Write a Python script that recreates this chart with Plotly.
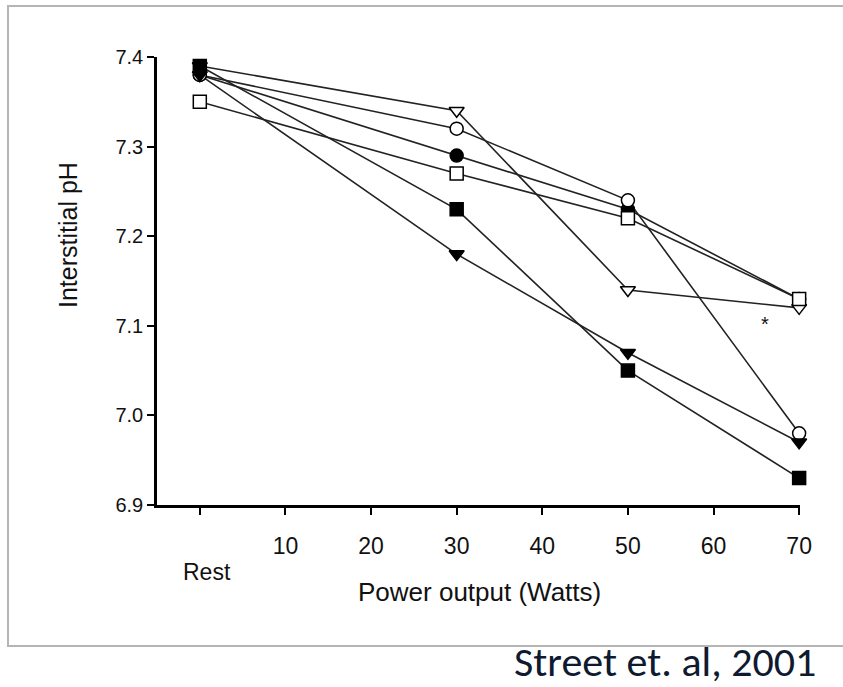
import plotly.graph_objects as go

# Data
power_x = [0, 30, 50, 70]
x_tick_vals = [0, 10, 20, 30, 40, 50, 60, 70]
x_tick_text = ["", "10", "20", "30", "40", "50", "60", "70"]
y_tick_vals = [6.9, 7.0, 7.1, 7.2, 7.3, 7.4]
y_tick_text = ["6.9", "7.0", "7.1", "7.2", "7.3", "7.4"]

open_triangle = [7.39, 7.34, 7.14, 7.12]
open_circle = [7.38, 7.32, 7.24, 6.98]
open_square = [7.35, 7.27, 7.22, 7.13]
filled_circle = [7.38, 7.29, 7.23, 7.13]
filled_square = [7.39, 7.23, 7.05, 6.93]
filled_triangle = [7.38, 7.18, 7.07, 6.97]

# drawing order (later on top)
series = [
    ("filled_circle", filled_circle, "circle", "black"),
    ("open_triangle", open_triangle, "triangle-down", "white"),
    ("open_circle", open_circle, "circle", "white"),
    ("open_square", open_square, "square", "white"),
    ("filled_triangle", filled_triangle, "triangle-down", "black"),
    ("filled_square", filled_square, "square", "black"),
]

FONT = "Liberation Sans, Arial"

L, R, T, B = 157, 43, 57, 182
PW, PH = 843 - L - R, 687 - T - B


def px(xp):
    return (xp - L) / PW


def py(yp):
    return (687 - B - yp) / PH


fig = go.Figure()

for name, vals, sym, col in series:
    fig.add_trace(go.Scatter(x=power_x, y=vals, mode="lines",
                             line=dict(color="#222222", width=1.6),
                             showlegend=False, hoverinfo="skip", cliponaxis=False))
for name, vals, sym, col in series:
    fig.add_trace(go.Scatter(x=power_x, y=vals, mode="markers", name=name,
                             marker=dict(symbol=sym, size=13, color=col,
                                         line=dict(color="black", width=1.5)),
                             showlegend=False, cliponaxis=False))

fig.update_layout(
    width=843, height=687,
    margin=dict(l=L, r=R, t=T, b=B),
    paper_bgcolor="white", plot_bgcolor="white",
    font=dict(family=FONT, size=20, color="#111111"),
    xaxis=dict(range=[-5, 70.1], showgrid=False, zeroline=False,
               showline=True, linecolor="black", linewidth=2.5,
               ticks="outside", ticklen=7, tickwidth=2, tickcolor="black",
               tickvals=x_tick_vals, ticktext=x_tick_text,
               ticklabelstandoff=12, tickfont=dict(size=23, family=FONT)),
    yaxis=dict(range=[6.9, 7.4], showgrid=False, zeroline=False,
               showline=True, linecolor="black", linewidth=2.5,
               ticks="outside", ticklen=7, tickwidth=2, tickcolor="black",
               tickvals=y_tick_vals, ticktext=y_tick_text,
               ticklabelstandoff=0, tickfont=dict(size=20, family=FONT)),
    shapes=[dict(type="rect", xref="paper", yref="paper",
                 x0=px(8), x1=px(870), y0=py(646), y1=py(6),
                 line=dict(color="#b5b5b5", width=2), fillcolor="rgba(0,0,0,0)",
                 layer="below")],
    annotations=[
        dict(text="Rest", x=px(207), xref="paper", y=py(572), yref="paper",
             xanchor="center", yanchor="middle", showarrow=False,
             font=dict(size=23, family=FONT)),
        dict(text="Power output (Watts)", x=px(479), xref="paper",
             y=py(592), yref="paper", xanchor="center", yanchor="middle",
             showarrow=False, font=dict(size=26, family=FONT)),
        dict(text="Interstitial pH", x=px(68), xref="paper",
             y=py(235), yref="paper", xanchor="center", yanchor="middle",
             showarrow=False, textangle=-90, font=dict(size=25, family=FONT)),
        dict(text="*", x=px(765), xref="paper", y=py(324), yref="paper",
             xanchor="center", yanchor="middle", showarrow=False,
             font=dict(size=20, family="Liberation Sans")),
        dict(text="Street et. al, 2001", x=px(512), xref="paper",
             xanchor="left", yanchor="middle", y=py(661), yref="paper",
             showarrow=False,
             font=dict(size=42, family="Carlito, Lato, Open Sans", color="#0f1a30")),
    ],
)

fig.write_html("out.html", config={"displayModeBar": False},
               post_script="document.body.style.margin='0';")
